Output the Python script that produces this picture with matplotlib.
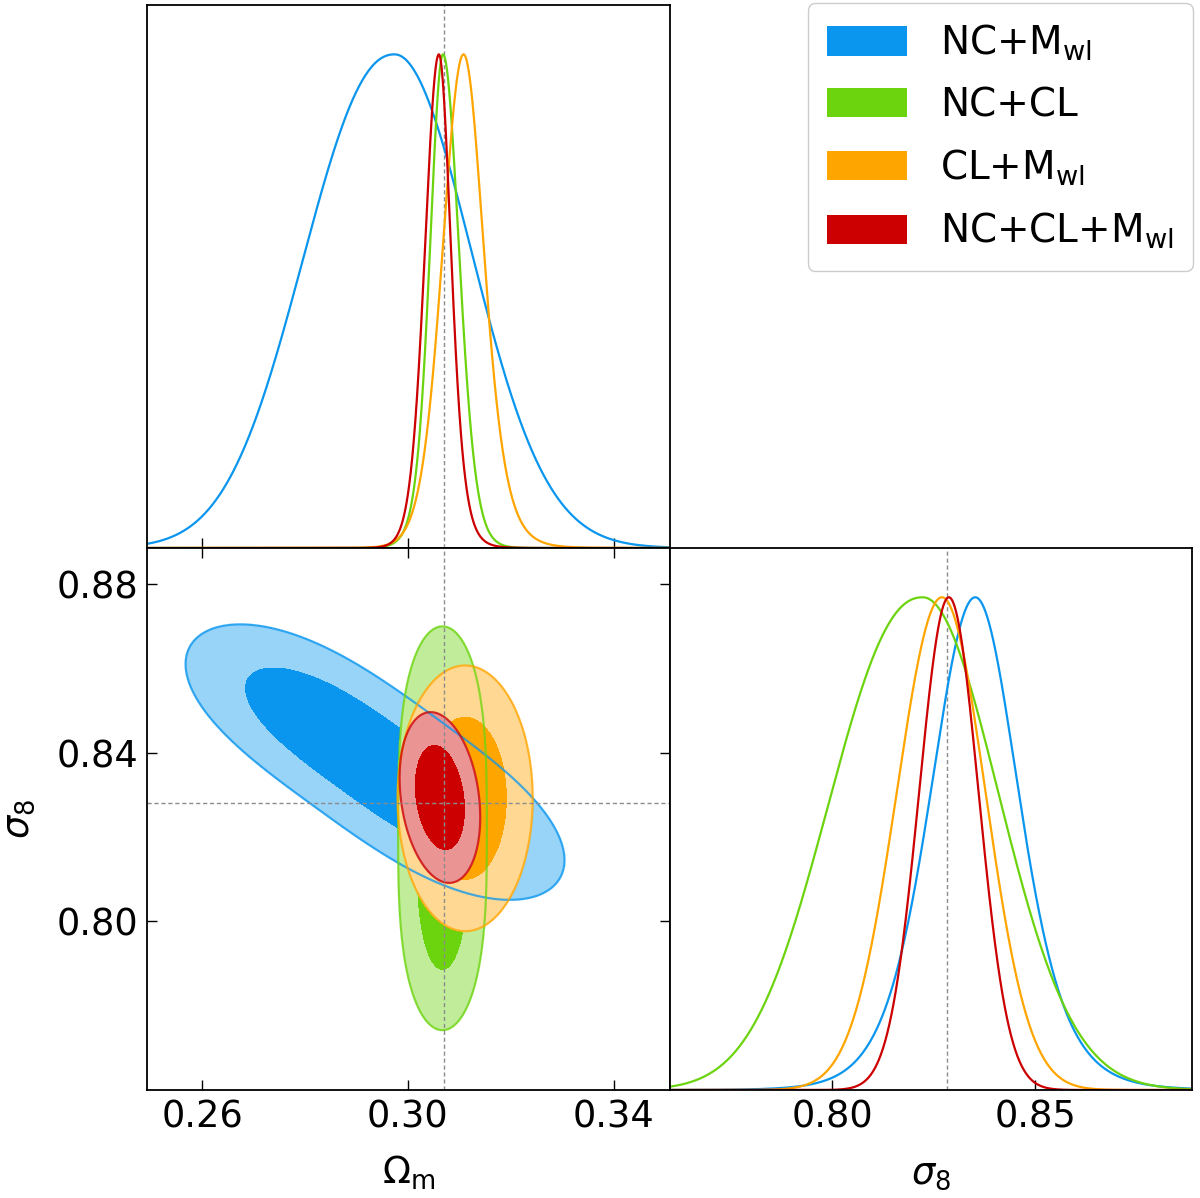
import numpy as np
import matplotlib
matplotlib.use("Agg")
import matplotlib.pyplot as plt
from matplotlib.patches import Patch
from matplotlib.colors import to_rgb

plt.rcParams['font.family'] = ['DejaVu Sans']
plt.rcParams['mathtext.fontset'] = 'dejavusans'

# ---------------- data ----------------
labels = [r'NC+M$_{\rm wl}$', 'NC+CL', r'CL+M$_{\rm wl}$', r'NC+CL+M$_{\rm wl}$']
colors = ['#0a96ee', '#6cd40e', '#ffa500', '#cc0000']

om_true = 0.3070
s8_true = 0.8282

om_lim = (0.2493, 0.3509)
s8_lim = (0.7600, 0.8886)
om_ticks = [0.26, 0.30, 0.34]
s8_ticks_2d = [0.80, 0.84, 0.88]
s8_ticks_1d = [0.80, 0.85]

# 1D marginal of Omega_m: mode, left/right widths, left/right shape exponents,
# left/right tail parameters (large = Gaussian-like tails)
om_mode = [0.2974, 0.3068, 0.3108, 0.3060]
om_wlo = [0.01724, 0.00246, 0.00399, 0.00266]
om_whi = [0.0148, 0.00306, 0.00380, 0.00228]
om_plo = [2.2, 2.0, 2.0, 2.0]
om_phi = [2.0, 2.0, 2.0, 2.0]
om_klo = [1e6, 10, 16, 16]
om_khi = [1e6, 16, 8, 8]

# 1D marginal of sigma_8
s8_mode = [0.8352, 0.8223, 0.8270, 0.8287]
s8_wlo = [0.01066, 0.0224, 0.0111, 0.0073]
s8_whi = [0.01033, 0.0185, 0.0107, 0.0073]
s8_plo = [2.0, 2.25, 2.0, 2.0]
s8_phi = [2.0, 2.0, 2.0, 2.0]
s8_klo = [10, 1e6, 1e6, 1e6]
s8_khi = [8, 1e6, 1e6, 1e6]

# 2D posteriors: centre, scale units, principal-axis angle (in scaled units),
# principal widths and profile exponents
c_om = [0.2936, 0.3067, 0.3111, 0.3062]
c_s8 = [0.8378, 0.8221, 0.8292, 0.8294]
w_om = [0.01446, 0.00346, 0.00528, 0.00315]
w_s8 = [0.01284, 0.01925, 0.01268, 0.00815]
ax_angle = [-45.0, 90.0, 0.0, -45.0]
s_u = [1.883, 1.410, 1.0, 1.109]
s_v = [0.4936, 1.062, 1.0, 0.8775]
p_u = [3.0, 3.0, 2.0, 2.0]
p_v = [2.0, 2.0, 2.0, 2.0]

mass_levels = [0.6827, 0.9545]

FS = 26.5
FS_LEG = 28


def shape1d(x, mode, wlo, whi, plo, phi, klo, khi):
    d = x - mode
    w = np.where(d < 0, wlo, whi)
    p = np.where(d < 0, plo, phi)
    k = np.where(d < 0, klo, khi)
    return np.exp(-0.5 * k * np.log1p(np.abs(d / w) ** p / k))


def lighten(c, f=0.42):
    r = np.array(to_rgb(c))
    return tuple(f * r + (1 - f) * np.ones(3))


def mass_thresholds(dens, fracs):
    flat = np.sort(dens.ravel())[::-1]
    cum = np.cumsum(flat)
    cum /= cum[-1]
    return [flat[np.searchsorted(cum, f)] for f in fracs]


fig = plt.figure(figsize=(12, 11.98), dpi=100)
ax_top = fig.add_axes([0.1225, 0.54257, 0.43583, 0.45326])
ax_2d = fig.add_axes([0.1225, 0.09015, 0.43583, 0.45242])
ax_r = fig.add_axes([0.55833, 0.09015, 0.435, 0.45242])

dash = (0, (3, 2))
gcol = '#8c8c8c'

# ---- top: Omega_m 1D
xo = np.linspace(om_lim[0], om_lim[1], 1500)
for i in range(4):
    ax_top.plot(xo, shape1d(xo, om_mode[i], om_wlo[i], om_whi[i], om_plo[i], om_phi[i],
                            om_klo[i], om_khi[i]),
                color=colors[i], lw=1.6, zorder=3)
ax_top.axvline(om_true, color=gcol, ls=dash, lw=1.0, zorder=2)
ax_top.set_xlim(om_lim)
ax_top.set_ylim(0, 1.1)
ax_top.set_yticks([])
ax_top.set_xticks(om_ticks)
ax_top.tick_params(axis='x', direction='in', length=7, width=1, labelbottom=False)

# ---- bottom-right: sigma_8 1D
xs = np.linspace(s8_lim[0], s8_lim[1], 1500)
for i in range(4):
    ax_r.plot(xs, shape1d(xs, s8_mode[i], s8_wlo[i], s8_whi[i], s8_plo[i], s8_phi[i],
                          s8_klo[i], s8_khi[i]),
              color=colors[i], lw=1.6, zorder=3)
ax_r.axvline(s8_true, color=gcol, ls=dash, lw=1.0, zorder=2)
ax_r.set_xlim(s8_lim)
ax_r.set_ylim(0, 1.1)
ax_r.set_yticks([])
ax_r.set_xticks(s8_ticks_1d)
ax_r.set_xticklabels(['%.2f' % t for t in s8_ticks_1d])
ax_r.tick_params(axis='x', direction='in', length=7, width=1, labelsize=FS, pad=6)
ax_r.set_xlabel(r'$\sigma_8$', fontsize=FS, labelpad=14)

# ---- bottom-left: 2D contours
gx = np.linspace(om_lim[0], om_lim[1], 800)
gy = np.linspace(s8_lim[0], s8_lim[1], 800)
X, Y = np.meshgrid(gx, gy)
for i in range(4):
    dx = (X - c_om[i]) / w_om[i]
    dy = (Y - c_s8[i]) / w_s8[i]
    a = np.deg2rad(ax_angle[i])
    u = (dx * np.cos(a) + dy * np.sin(a)) / s_u[i]
    v = (-dx * np.sin(a) + dy * np.cos(a)) / s_v[i]
    q = np.abs(u) ** p_u[i] + np.abs(v) ** p_v[i]
    dens = np.exp(-0.5 * q)
    t68, t95 = mass_thresholds(dens, mass_levels)
    ax_2d.contourf(X, Y, dens, levels=[t95, t68, dens.max() * 1.01],
                   colors=[lighten(colors[i]), colors[i]], zorder=1 + i)
    ax_2d.contour(X, Y, dens, levels=[t95], colors=[colors[i]],
                  linewidths=1.6, alpha=0.75, zorder=6)
ax_2d.axvline(om_true, color=gcol, ls=dash, lw=1.0, zorder=8)
ax_2d.axhline(s8_true, color=gcol, ls=dash, lw=1.0, zorder=8)
ax_2d.set_xlim(om_lim)
ax_2d.set_ylim(s8_lim)
ax_2d.set_xticks(om_ticks)
ax_2d.set_xticklabels(['%.2f' % t for t in om_ticks])
ax_2d.set_yticks(s8_ticks_2d)
ax_2d.set_yticklabels(['%.2f' % t for t in s8_ticks_2d])
ax_2d.tick_params(direction='in', length=7, width=1, labelsize=FS, top=True, right=True, pad=6)
ax_2d.set_xlabel(r'$\Omega_{\rm m}$', fontsize=FS, labelpad=13)
ax_2d.set_ylabel(r'$\sigma_8$', fontsize=FS, labelpad=14)

for ax in (ax_top, ax_2d, ax_r):
    for s in ax.spines.values():
        s.set_linewidth(1.3)
        s.set_zorder(10)

handles = [Patch(facecolor=c, edgecolor='none') for c in colors]
fig.legend(handles, labels, loc='upper right', bbox_to_anchor=(0.9942, 0.9975),
           fontsize=FS_LEG, handlelength=2.06, handleheight=0.78, handletextpad=0.85,
           labelspacing=0.6, borderpad=0.5, borderaxespad=0.0, framealpha=1,
           edgecolor='0.8', fancybox=True)

fig.savefig('out.png', dpi=100)
